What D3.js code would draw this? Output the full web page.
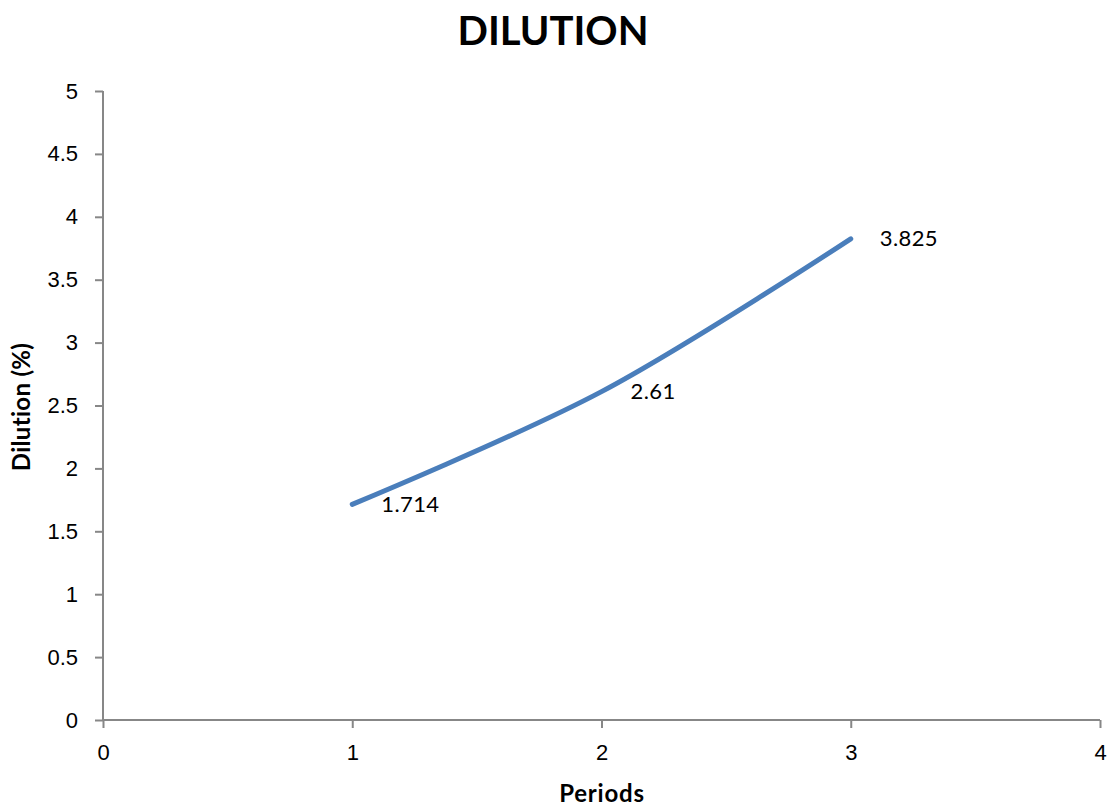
<!DOCTYPE html>
<html>
<head>
<meta charset="utf-8">
<script src="https://cdn.jsdelivr.net/npm/d3@7"></script>
<style>
  html, body { margin: 0; padding: 0; background: #fff; }
  svg { display: block; font-family: Lato, "Open Sans", "Liberation Sans", sans-serif; }
</style>
</head>
<body>
<svg id="chart" width="1110" height="807"></svg>
<script>
// Dilution by period
const periods = [1, 2, 3];
const dilution = [1.714, 2.61, 3.825];
const xTicks = [0, 1, 2, 3, 4];
const yTicks = [0, 0.5, 1, 1.5, 2, 2.5, 3, 3.5, 4, 4.5, 5];

const svg = d3.select("#chart");
const margin = { left: 103, right: 1100, top: 91, bottom: 720 };

const x = d3.scaleLinear().domain([0, 4]).range([margin.left, margin.right]);
const y = d3.scaleLinear().domain([0, 5]).range([margin.bottom, margin.top]);

const axisColor = "#878787";
const numFont = "22px";

// Y axis
const yAxis = svg.append("g")
  .attr("transform", `translate(${margin.left},0)`)
  .call(d3.axisLeft(y).tickValues(yTicks).tickSize(8).tickPadding(17)
    .tickFormat(d => String(d)));
// X axis
const xAxis = svg.append("g")
  .attr("transform", `translate(0,${margin.bottom})`)
  .call(d3.axisBottom(x).tickValues(xTicks).tickSize(8).tickPadding(16)
    .tickFormat(d => String(d)));

[yAxis, xAxis].forEach(g => {
  g.select(".domain").attr("stroke", axisColor).attr("stroke-width", 2);
  g.selectAll(".tick line").attr("stroke", axisColor).attr("stroke-width", 2);
  g.selectAll(".tick text").attr("fill", "#000").style("font-size", numFont);
});
// Plain axis lines without outer ticks
yAxis.select(".domain").attr("d", `M0,${margin.bottom}V${margin.top}`);
xAxis.select(".domain").attr("d", `M${margin.left},0H${margin.right}`);

// Series line
const pts = periods.map((p, i) => [p, dilution[i]]);
const line = d3.line()
  .x(d => x(d[0]))
  .y(d => y(d[1]))
  .curve(d3.curveCatmullRom.alpha(0.5));

svg.append("path")
  .datum(pts)
  .attr("d", line)
  .attr("fill", "none")
  .attr("stroke", "#4A7EBB")
  .attr("stroke-width", 5)
  .attr("stroke-linecap", "round");

// Value labels
svg.append("g").selectAll("text")
  .data(pts)
  .join("text")
  .attr("x", d => x(d[0]) + 29)
  .attr("y", d => y(d[1]) + 2)
  .attr("dominant-baseline", "middle")
  .style("font-size", numFont)
  .style("letter-spacing", "0.4px")
  .text(d => d[1]);

// Title
svg.append("text")
  .attr("x", 553)
  .attr("y", 45)
  .attr("text-anchor", "middle")
  .style("font-size", "40px")
  .style("font-weight", "bold")
  .text("DILUTION");

// Axis titles
svg.append("text")
  .attr("x", 602)
  .attr("y", 802)
  .attr("text-anchor", "middle")
  .style("font-size", "24px")
  .style("font-weight", "bold")
  .style("letter-spacing", "0.8px")
  .text("Periods");

svg.append("text")
  .attr("transform", "translate(30,407) rotate(-90)")
  .attr("text-anchor", "middle")
  .style("font-size", "24px")
  .style("font-weight", "bold")
  .style("letter-spacing", "0.3px")
  .text("Dilution (%)");
</script>
</body>
</html>
